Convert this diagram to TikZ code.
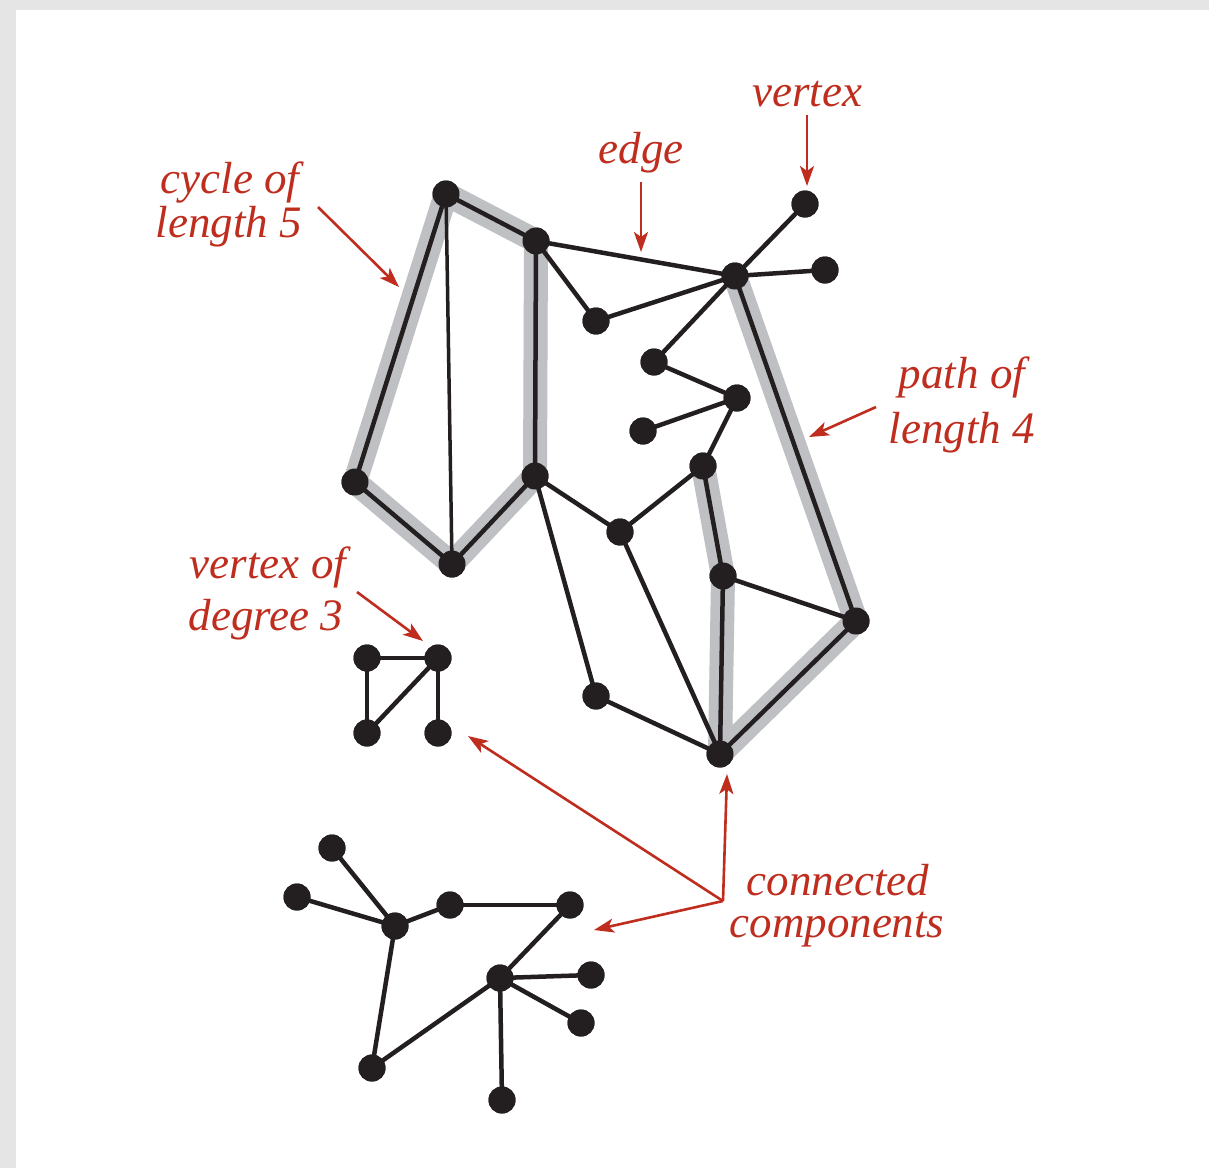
\documentclass[tikz,border=0pt]{standalone}
\usepackage{fontspec}
\setmainfont{Liberation Serif}
\usetikzlibrary{arrows.meta}
\definecolor{lblred}{RGB}{190,45,30}
\definecolor{hilite}{RGB}{190,192,196}
\definecolor{vtx}{RGB}{35,31,32}
\begin{document}
\begin{tikzpicture}[x=1pt,y=-1pt,
  v/.style={circle,fill=vtx,inner sep=0pt,minimum size=27pt},
  e/.style={draw=vtx,line width=4.5pt},
  hl/.style={draw=hilite,line width=24pt,line join=round,line cap=round},
  lbl/.style={text=lblred,font=\fontsize{45}{50}\selectfont\itshape,anchor=base,inner sep=0pt},
  ar/.style={draw=lblred,line width=2.6pt,-{Stealth[length=20pt,width=14pt,inset=5pt]}}]
\useasboundingbox (0,0) rectangle (1209,1168);
\fill[gray!20] (0,0) rectangle (1209,1168);
\fill[white] (16,10) rectangle (1209,1168);
% main component vertices
\node[v] (A) at (446,194) {};
\node[v] (B) at (536,241) {};
\node[v] (C) at (355,482) {};
\node[v] (D) at (452,564) {};
\node[v] (E) at (535,476) {};
\node[v] (F) at (596,321) {};
\node[v] (G) at (735,276) {};
\node[v] (H) at (805,204) {};
\node[v] (I) at (825,270) {};
\node[v] (J) at (654,362) {};
\node[v] (K) at (737,398) {};
\node[v] (L) at (643,431) {};
\node[v] (M) at (703,466) {};
\node[v] (N) at (620,532) {};
\node[v] (O) at (723,576) {};
\node[v] (P) at (856,621) {};
\node[v] (Q) at (596,696) {};
\node[v] (R) at (720,754) {};
% small component
\node[v] (S1) at (367,658) {};
\node[v] (S2) at (438,658) {};
\node[v] (S3) at (367,733) {};
\node[v] (S4) at (438,733) {};
% bottom component
\node[v] (T1) at (332,848) {};
\node[v] (T2) at (297,897) {};
\node[v] (T3) at (395,926) {};
\node[v] (T4) at (450,905) {};
\node[v] (T5) at (570,905) {};
\node[v] (T6) at (500,978) {};
\node[v] (T7) at (591,975) {};
\node[v] (T8) at (581,1023) {};
\node[v] (T9) at (372,1068) {};
\node[v] (T10) at (502,1100) {};
% highlights
\path[hl] (A.center) -- (B.center) -- (E.center) -- (D.center) -- (C.center) -- cycle;
\path[hl] (G.center) -- (P.center) -- (R.center) -- (O.center) -- (M.center);
% edges
\foreach \a/\b in {A/B,A/C,C/D,D/E,E/B,B/G,B/F,F/G,G/H,G/I,G/J,J/K,K/L,K/M,M/N,N/E,E/Q,Q/R,N/R,M/O,O/R,O/P,G/P,P/R,
  S1/S2,S1/S3,S2/S3,S2/S4,
  T1/T3,T2/T3,T3/T4,T4/T5,T5/T6,T6/T7,T6/T8,T6/T10,T6/T9,T9/T3}
  \draw[e] (\a.center) -- (\b.center);
\draw[draw=vtx,line width=3.5pt] (A.center) -- (D.center);
% redraw vertices on top
\foreach \n in {A,B,C,D,E,F,G,H,I,J,K,L,M,N,O,P,Q,R,S1,S2,S3,S4,T1,T2,T3,T4,T5,T6,T7,T8,T9,T10}
  \fill[vtx] (\n) circle (13.5pt);
% labels
\node[lbl] (lv) at (807,106) {vertex};
\node[lbl] (le) at (641,163) {edge};
\node[lbl] (lc1) at (230,193) {cycle of};
\node[lbl] (lc2) at (229,237) {length 5};
\node[lbl] (lp1) at (962,388) {path of};
\node[lbl] (lp2) at (962,443) {length 4};
\node[lbl] (ld1) at (268,578) {vertex of};
\node[lbl] (ld2) at (266,630) {degree 3};
\node[lbl] (lk1) at (838,895) {connected};
\node[lbl] (lk2) at (837,937) {components};
% arrows
\coordinate (av0) at (807,115);
\coordinate (av1) at (807,186);
\coordinate (ae0) at (641,182);
\coordinate (ae1) at (641,252);
\coordinate (ac0) at (318,207);
\coordinate (ac1) at (399,287);
\coordinate (ap0) at (876,407);
\coordinate (ap1) at (809,437);
\coordinate (ad0) at (357,592);
\coordinate (ad1) at (423,641);
\coordinate (ak) at (723,901);
\coordinate (ak1) at (727,774);
\coordinate (ak2) at (468,736);
\coordinate (ak3) at (594,930);
\draw[ar] (av0) -- (av1);
\draw[ar] (ae0) -- (ae1);
\draw[ar] (ac0) -- (ac1);
\draw[ar] (ap0) -- (ap1);
\draw[ar] (ad0) -- (ad1);
\draw[ar] (ak) -- (ak1);
\draw[ar] (ak) -- (ak2);
\draw[ar] (ak) -- (ak3);
\end{tikzpicture}
\end{document}
